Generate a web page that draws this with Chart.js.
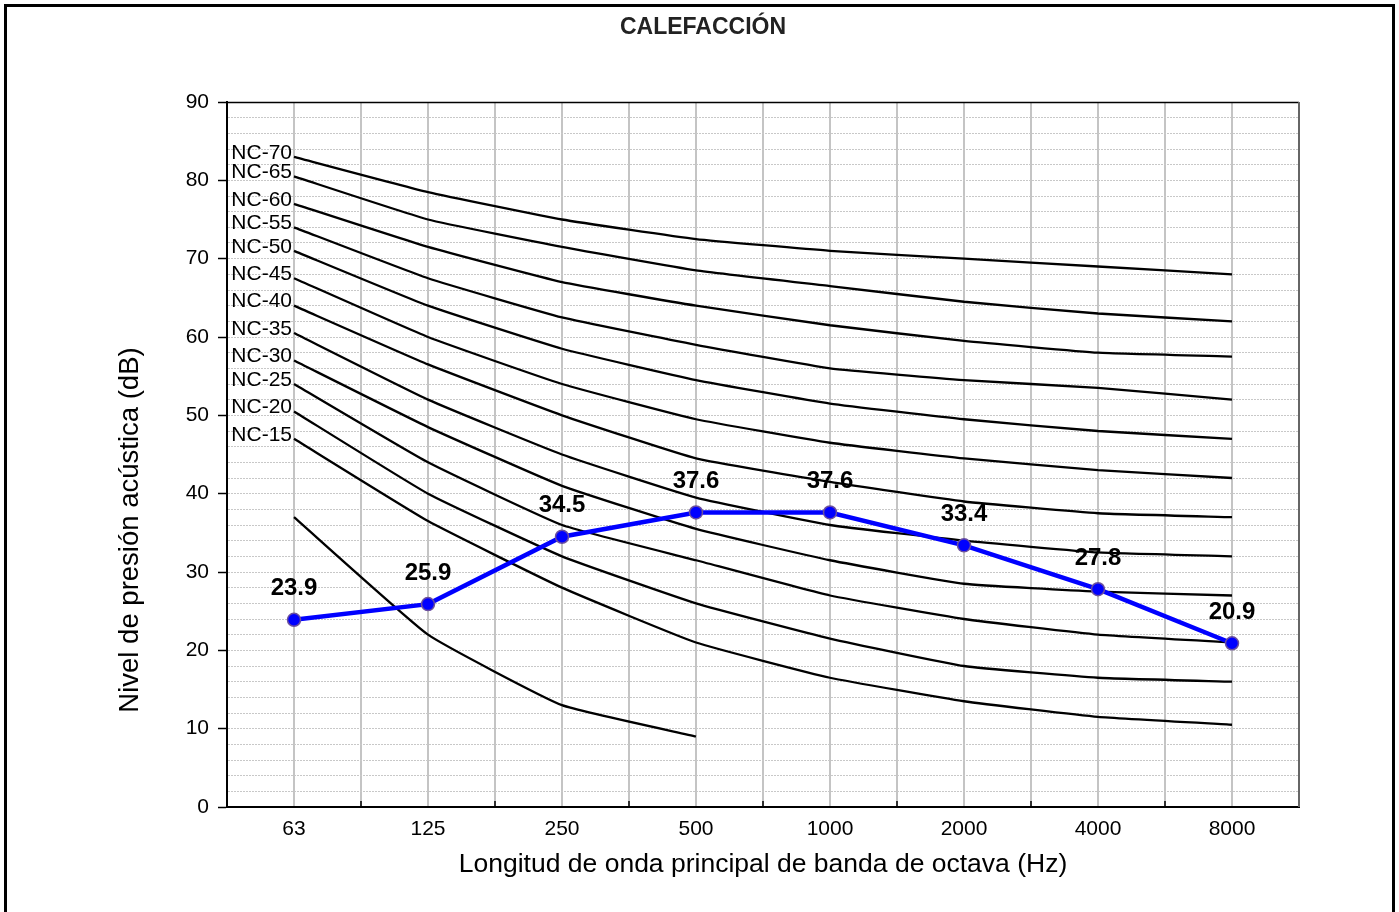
<!DOCTYPE html>
<html>
<head>
<meta charset="utf-8">
<script src="https://cdn.jsdelivr.net/npm/chart.js@4/dist/chart.umd.min.js"></script>
<style>
  html, body { margin: 0; padding: 0; background: #fff; }
  #wrap { position: relative; width: 1399px; height: 912px; }
</style>
</head>
<body>
<div id="wrap"><canvas id="c" width="1399" height="912"></canvas></div>
<script>
// Octave band centre frequencies (Hz)
const bands = ['63', '125', '250', '500', '1000', '2000', '4000', '8000'];

// Noise Criteria reference curves (dB per octave band)
const nc70 = [83, 78.5, 75, 72.5, 71, 70, 69, 68];
const nc65 = [80.5, 75, 71.5, 68.5, 66.5, 64.5, 63, 62];
const nc60 = [77, 71.5, 67, 64, 61.5, 59.5, 58, 57.5];
const nc55 = [74, 67.5, 62.5, 59, 56, 54.5, 53.5, 52];
const nc50 = [71, 64, 58.5, 54.5, 51.5, 49.5, 48, 47];
const nc45 = [67.5, 60, 54, 49.5, 46.5, 44.5, 43, 42];
const nc40 = [64, 56.5, 50, 44.5, 41.5, 39, 37.5, 37];
const nc35 = [60.5, 52, 45, 39.5, 36, 34, 32.5, 32];
const nc30 = [57, 48.5, 41, 35.5, 31.5, 28.5, 27.5, 27];
const nc25 = [54, 44, 36, 31.5, 27, 24, 22, 21];
const nc20 = [50.5, 40, 32, 26, 21.5, 18, 16.5, 16];
const nc15 = [47, 36.5, 28, 21, 16.5, 13.5, 11.5, 10.5];
const ncLow = [37, 22, 13, 9, null, null, null, null];

const ncNames = ['NC-70', 'NC-65', 'NC-60', 'NC-55', 'NC-50', 'NC-45', 'NC-40', 'NC-35', 'NC-30', 'NC-25', 'NC-20', 'NC-15', ''];
const ncCurves = [nc70, nc65, nc60, nc55, nc50, nc45, nc40, nc35, nc30, nc25, nc20, nc15, ncLow];

// Measured sound pressure level, heating mode (dB)
const measured = [23.9, 25.9, 34.5, 37.6, 37.6, 33.4, 27.8, 20.9];

// Y axis tick labels (every 10 dB), grid every 2 dB
const yMin = 0, yMax = 90, yLabelStep = 10, yGridStep = 2;

const chartTitle = 'CALEFACCIÓN';
const yTitle = 'Nivel de presión acústica (dB)';
const xTitle = 'Longitud de onda principal de banda de octava (Hz)';
const FONT = '"Liberation Sans", Arial, sans-serif';

const toPoints = arr => arr.map((v, i) => ({ x: i, y: v }));

const datasets = ncCurves.map((curve, k) => ({
  label: ncNames[k] || 'NC',
  data: toPoints(curve),
  borderColor: '#000000',
  borderWidth: 2.3,
  pointRadius: 0,
  tension: 0.12,
  spanGaps: false,
  order: 2
}));

datasets.push({
  label: 'Calefacción',
  data: toPoints(measured),
  borderColor: '#0000ff',
  backgroundColor: '#0000ff',
  borderWidth: 4.5,
  pointRadius: 6.5,
  pointBackgroundColor: '#0000ff',
  pointBorderColor: '#6b4f9e',
  pointBorderWidth: 1.5,
  tension: 0,
  order: 0
});

// Frame around the whole figure, the centred title and the vertical axis title
const framePlugin = {
  id: 'frame',
  afterDraw(chart) {
    const ctx = chart.ctx;
    ctx.save();
    ctx.strokeStyle = '#000';
    ctx.lineWidth = 3;
    ctx.strokeRect(5.5, 5.5, 1388, 920);
    ctx.fillStyle = '#222';
    ctx.font = 'bold 23px ' + FONT;
    ctx.textAlign = 'center';
    ctx.textBaseline = 'middle';
    ctx.fillText(chartTitle, 703, 28);
    ctx.fillStyle = '#000';
    ctx.font = '27.5px ' + FONT;
    ctx.translate(130, 530);
    ctx.rotate(-Math.PI / 2);
    ctx.fillText(yTitle, 0, 0);
    ctx.restore();
  }
};

// Plot border, inner ticks at band boundaries, curve names and value labels
const decorPlugin = {
  id: 'decor',
  afterDatasetsDraw(chart) {
    const ctx = chart.ctx;
    const a = chart.chartArea;
    const xs = chart.scales.x, ys = chart.scales.y;
    ctx.save();
    // top border
    ctx.strokeStyle = '#000';
    ctx.lineWidth = 1.5;
    ctx.beginPath();
    ctx.moveTo(a.left, a.top + 0.5);
    ctx.lineTo(a.right, a.top + 0.5);
    ctx.stroke();
    // right border
    ctx.strokeStyle = '#666';
    ctx.lineWidth = 2;
    ctx.beginPath();
    ctx.moveTo(a.right, a.top);
    ctx.lineTo(a.right, a.bottom);
    ctx.stroke();
    // small ticks between bands
    ctx.strokeStyle = '#000';
    ctx.lineWidth = 1.5;
    for (let i = 0; i < bands.length - 1; i++) {
      const px = Math.round(xs.getPixelForValue(i + 0.5));
      ctx.beginPath();
      ctx.moveTo(px, a.bottom);
      ctx.lineTo(px, a.bottom - 6);
      ctx.stroke();
    }
    // curve names at the start of each NC curve
    ctx.fillStyle = '#000';
    ctx.font = '21px ' + FONT;
    ctx.textAlign = 'right';
    ctx.textBaseline = 'middle';
    const x0 = xs.getPixelForValue(0);
    ncCurves.forEach((curve, k) => {
      if (!ncNames[k]) return;
      ctx.fillText(ncNames[k], x0 - 2, ys.getPixelForValue(curve[0]) - 4);
    });
    // value labels above measured points
    ctx.font = 'bold 24px ' + FONT;
    ctx.textAlign = 'center';
    ctx.textBaseline = 'middle';
    measured.forEach((v, i) => {
      ctx.fillText(v.toFixed(1), xs.getPixelForValue(i), ys.getPixelForValue(v) - 31);
    });
    ctx.restore();
  }
};

new Chart(document.getElementById('c'), {
  type: 'line',
  data: { datasets },
  plugins: [decorPlugin, framePlugin],
  options: {
    responsive: false,
    animation: false,
    devicePixelRatio: 1,
    layout: { padding: { top: 102, left: 0, right: 100, bottom: 0 } },
    plugins: {
      legend: { display: false },
      tooltip: { enabled: false },
      title: { display: false }
    },
    scales: {
      x: {
        type: 'linear',
        min: -0.5,
        max: bands.length - 0.5,
        afterBuildTicks(scale) {
          const t = [];
          for (let v = -0.5; v <= bands.length - 0.5 + 1e-9; v += 0.5) t.push({ value: v });
          scale.ticks = t;
        },
        afterFit(scale) { scale.height = 105; },
        ticks: {
          autoSkip: false,
          maxRotation: 0,
          padding: 10,
          color: '#000',
          font: { family: FONT, size: 21 },
          callback(v) { return Number.isInteger(v) ? bands[v] : ''; }
        },
        grid: { color: '#c4c4c4', lineWidth: 2, drawTicks: false },
        border: { color: '#000', width: 2 },
        title: {
          display: true,
          text: xTitle,
          color: '#000',
          font: { family: FONT, size: 26.5 },
          padding: { top: 0, bottom: 31 }
        }
      },
      y: {
        min: yMin,
        max: yMax,
        afterBuildTicks(scale) {
          const t = [];
          for (let v = yMin; v <= yMax; v += yGridStep) t.push({ value: v });
          scale.ticks = t;
        },
        afterFit(scale) { scale.width = 227; },
        ticks: {
          autoSkip: false,
          padding: 9,
          color: '#000',
          font: { family: FONT, size: 21 },
          callback(v) { return v % yLabelStep === 0 ? String(v) : ''; }
        },
        grid: {
          color: '#c8c8c8',
          lineWidth: 1,
          tickLength: 9,
          tickWidth: 1.5,
          tickColor(ctx) { return ctx.tick && ctx.tick.value % yLabelStep === 0 ? '#000' : 'rgba(0,0,0,0)'; },
          tickBorderDash: []
        },
        border: { color: '#000', width: 2, dash: [2, 1] },
        title: { display: false }
      }
    }
  }
});
</script>
</body>
</html>
